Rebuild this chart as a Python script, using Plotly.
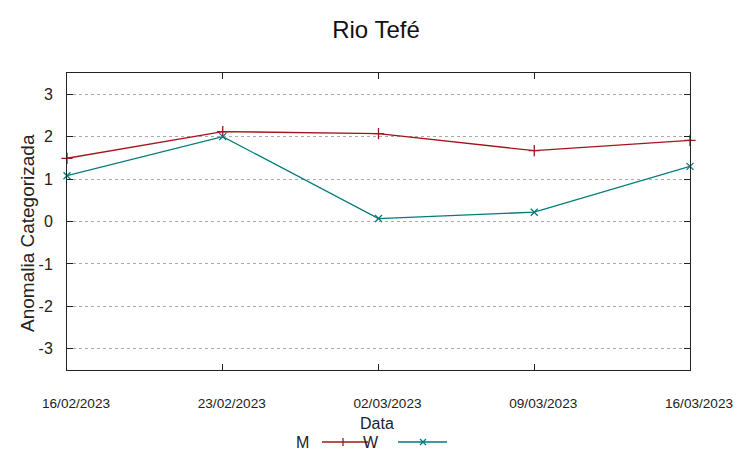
import plotly.graph_objects as go

dates = ["2023-02-16", "2023-02-23", "2023-03-02", "2023-03-09", "2023-03-16"]
date_labels = ["16/02/2023", "23/02/2023", "02/03/2023", "09/03/2023", "16/03/2023"]
m_values = [1.49, 2.12, 2.07, 1.67, 1.91]
w_values = [1.08, 2.00, 0.07, 0.22, 1.30]
y_ticks = [-3, -2, -1, 0, 1, 2, 3]
y_tick_labels = ["-3", "-2", "-1", "0", "1", "2", "3"]

RED = "#a3151d"
TEAL = "#007b7b"
FONT = "Liberation Sans"
W, H = 753, 458
OFF = 8  # page body margin
# desired plot area on screen
PL, PR, PT, PB = 67, 690, 73, 370
ML, MT = PL - OFF, PT - OFF
MR, MB = W + OFF - PR, H + OFF - PB


def px(sx):
    return (sx - PL) / (PR - PL)


def py(sy):
    return (PB - sy) / (PB - PT)


fig = go.Figure()
fig.add_trace(go.Scatter(x=dates, y=m_values, mode="lines+markers", name="M",
                         line=dict(color=RED, width=1.3),
                         marker=dict(symbol="cross-thin", size=8, line=dict(color=RED, width=1.3)),
                         showlegend=False, cliponaxis=False))
fig.add_trace(go.Scatter(x=dates, y=w_values, mode="lines+markers", name="W",
                         line=dict(color=TEAL, width=1.3),
                         marker=dict(symbol="x-thin", size=7, line=dict(color=TEAL, width=1.3)),
                         showlegend=False, cliponaxis=False))

fig.update_layout(
    width=W, height=H,
    margin=dict(l=ML, r=MR, t=MT, b=MB),
    paper_bgcolor="white", plot_bgcolor="white",
    font=dict(family=FONT, size=13, color="#222"),
    title=dict(text="Rio Tefé", x=px(376), xref="paper", xanchor="center",
               y=1 - (30 - OFF) / H, yref="container", yanchor="middle",
               font=dict(size=24, color="#111")),
)
fig.update_xaxes(
    type="date", range=[dates[0], dates[-1]],
    tickvals=dates, ticktext=date_labels,
    ticks="inside", ticklen=6, tickcolor="#222",
    showline=True, linecolor="#222", linewidth=1, mirror="ticks",
    showgrid=False, zeroline=False,
    ticklabelstandoff=21, ticklabelshift=9,
    tickfont=dict(size=13.6),
)
fig.update_yaxes(
    range=[-3.5, 3.5], tickvals=y_ticks, ticktext=y_tick_labels,
    ticks="inside", ticklen=6, tickcolor="#222",
    showline=True, linecolor="#222", linewidth=1, mirror="ticks",
    showgrid=True, gridcolor="#aaaaaa", griddash="dot", gridwidth=1,
    zeroline=False,
    tickfont=dict(size=16),
    ticklabelstandoff=10,
)

# axis titles
fig.add_annotation(x=px(27), y=py(233), xref="paper", yref="paper", text="Anomalia Categorizada",
                   textangle=-90, showarrow=False, xanchor="center", yanchor="middle",
                   font=dict(size=19))
fig.add_annotation(x=px(377), y=py(423), xref="paper", yref="paper", text="Data",
                   showarrow=False, xanchor="center", yanchor="middle", font=dict(size=16))

# manual legend (text left of sample, gnuplot style)
LY = 442
fig.add_annotation(x=px(311), y=py(LY), xref="paper", yref="paper", text="M",
                   showarrow=False, xanchor="right", yanchor="middle", font=dict(size=16))
fig.add_shape(type="line", xref="paper", yref="paper", x0=px(322), x1=px(368),
              y0=py(LY), y1=py(LY), line=dict(color=RED, width=1.3))
fig.add_shape(type="line", xref="paper", yref="paper", x0=px(343), x1=px(343),
              y0=py(LY - 4), y1=py(LY + 4), line=dict(color=RED, width=1.3))
fig.add_annotation(x=px(381), y=py(LY), xref="paper", yref="paper", text="W",
                   showarrow=False, xanchor="right", yanchor="middle", font=dict(size=16))
fig.add_shape(type="line", xref="paper", yref="paper", x0=px(398), x1=px(447),
              y0=py(LY), y1=py(LY), line=dict(color=TEAL, width=1.3))
fig.add_shape(type="line", xref="paper", yref="paper", x0=px(420), x1=px(426),
              y0=py(LY - 3), y1=py(LY + 3), line=dict(color=TEAL, width=1.2))
fig.add_shape(type="line", xref="paper", yref="paper", x0=px(420), x1=px(426),
              y0=py(LY + 3), y1=py(LY - 3), line=dict(color=TEAL, width=1.2))

fig.write_html("out.html")
